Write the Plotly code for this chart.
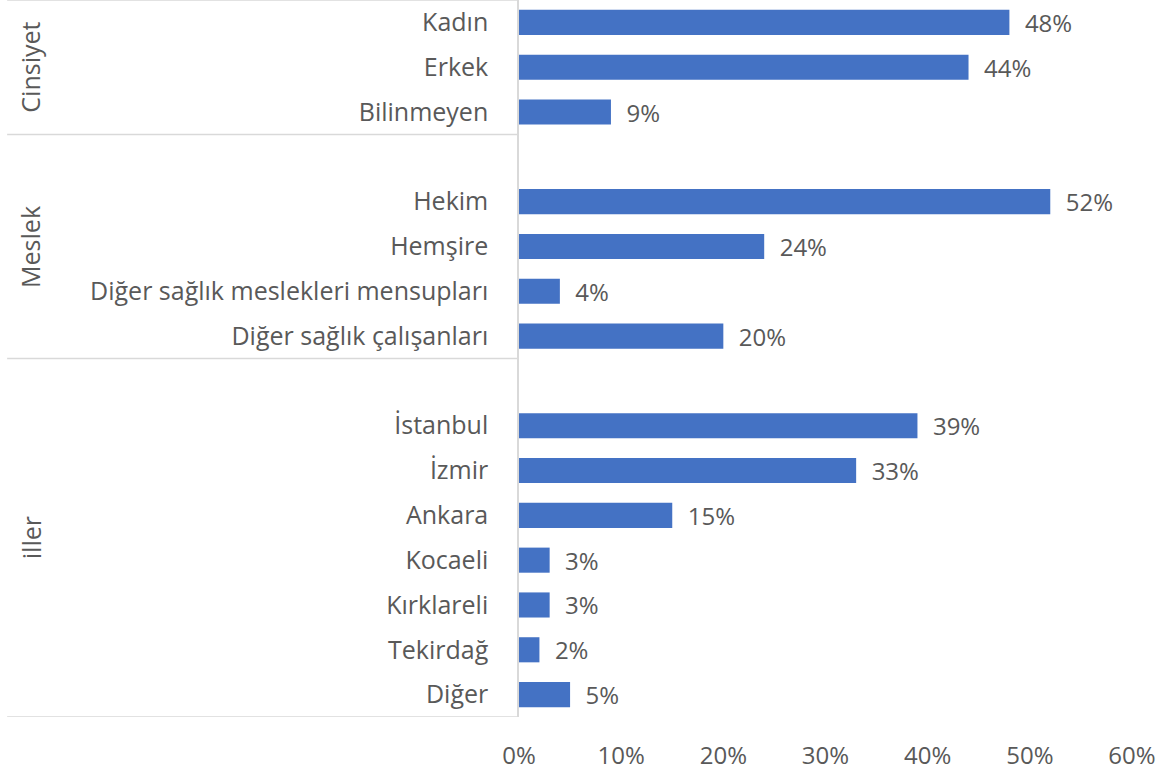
import plotly.graph_objects as go

# ---- data ----
groups = ["Cinsiyet", "Meslek", "iller"]
cinsiyet_labels = ["Kadın", "Erkek", "Bilinmeyen"]
cinsiyet_values = [48, 44, 9]
meslek_labels = ["Hekim", "Hemşire", "Diğer sağlık meslekleri mensupları", "Diğer sağlık çalışanları"]
meslek_values = [52, 24, 4, 20]
iller_labels = ["İstanbul", "İzmir", "Ankara", "Kocaeli", "Kırklareli", "Tekirdağ", "Diğer"]
iller_values = [39, 33, 15, 3, 3, 2, 5]
x_ticks = [0, 10, 20, 30, 40, 50, 60]

# ---- build positions (one empty slot before each group after the first) ----
group_data = [(groups[0], cinsiyet_labels, cinsiyet_values),
              (groups[1], meslek_labels, meslek_values),
              (groups[2], iller_labels, iller_values)]
ys, xs, labels = [], [], []
group_spans = []
pos = 0
for gi, (gname, labs, vals) in enumerate(group_data):
    start = pos - 0.5
    if gi > 0:
        pos += 1  # blank slot
    for l, v in zip(labs, vals):
        ys.append(pos)
        xs.append(v)
        labels.append(l)
        pos += 1
    group_spans.append((gname, start, pos - 0.5))

TEXT = "#595959"
LINE = "#D9D9D9"
FONT = "Open Sans"
FS = 25

fig = go.Figure(go.Bar(
    x=xs, y=ys, orientation="h",
    marker=dict(color="#4472C4", line=dict(width=0)),
    width=0.56,
    text=["\u00a0\u00a0" + f"{v}%" for v in xs],
    texttemplate="%{text}",
    textposition="outside",
    constraintext="none",
    textfont=dict(family=FONT, size=24, color=TEXT),
    cliponaxis=False,
    hoverinfo="skip",
))

fig.update_layout(
    width=1168, height=774,
    margin=dict(l=519, r=36, t=0, b=57),
    paper_bgcolor="white", plot_bgcolor="white",
    showlegend=False,
    font=dict(family=FONT, size=FS, color=TEXT),
    xaxis=dict(range=[0, 60], tickvals=x_ticks, ticktext=[f"{t}%" for t in x_ticks],
               showgrid=False, zeroline=False, showline=False,
               ticklabelstandoff=22,
               tickfont=dict(family=FONT, size=24, color=TEXT)),
    yaxis=dict(range=[pos - 0.5, -0.5], tickvals=ys, ticktext=labels,
               showgrid=False, zeroline=False, showline=True, linecolor=LINE, linewidth=1.5,
               ticks="", ticklabelstandoff=24,
               tickfont=dict(family=FONT, size=FS, color=TEXT)),
)

x_left = -0.835
boundaries = [-0.5] + [s[2] for s in group_spans]
for b in boundaries:
    fig.add_shape(type="line", xref="paper", yref="y", x0=x_left, x1=0, y0=b, y1=b,
                  line=dict(color=LINE, width=1.5))

for gname, s, e in group_spans:
    fig.add_annotation(xref="paper", yref="y", x=-0.797, y=(s + e) / 2, text=gname,
                       textangle=-90, showarrow=False, xanchor="center", yanchor="middle",
                       font=dict(family=FONT, size=FS, color=TEXT))

fig.write_html("out.html", config={"displayModeBar": False},
               post_script="document.body.style.margin='0';")
